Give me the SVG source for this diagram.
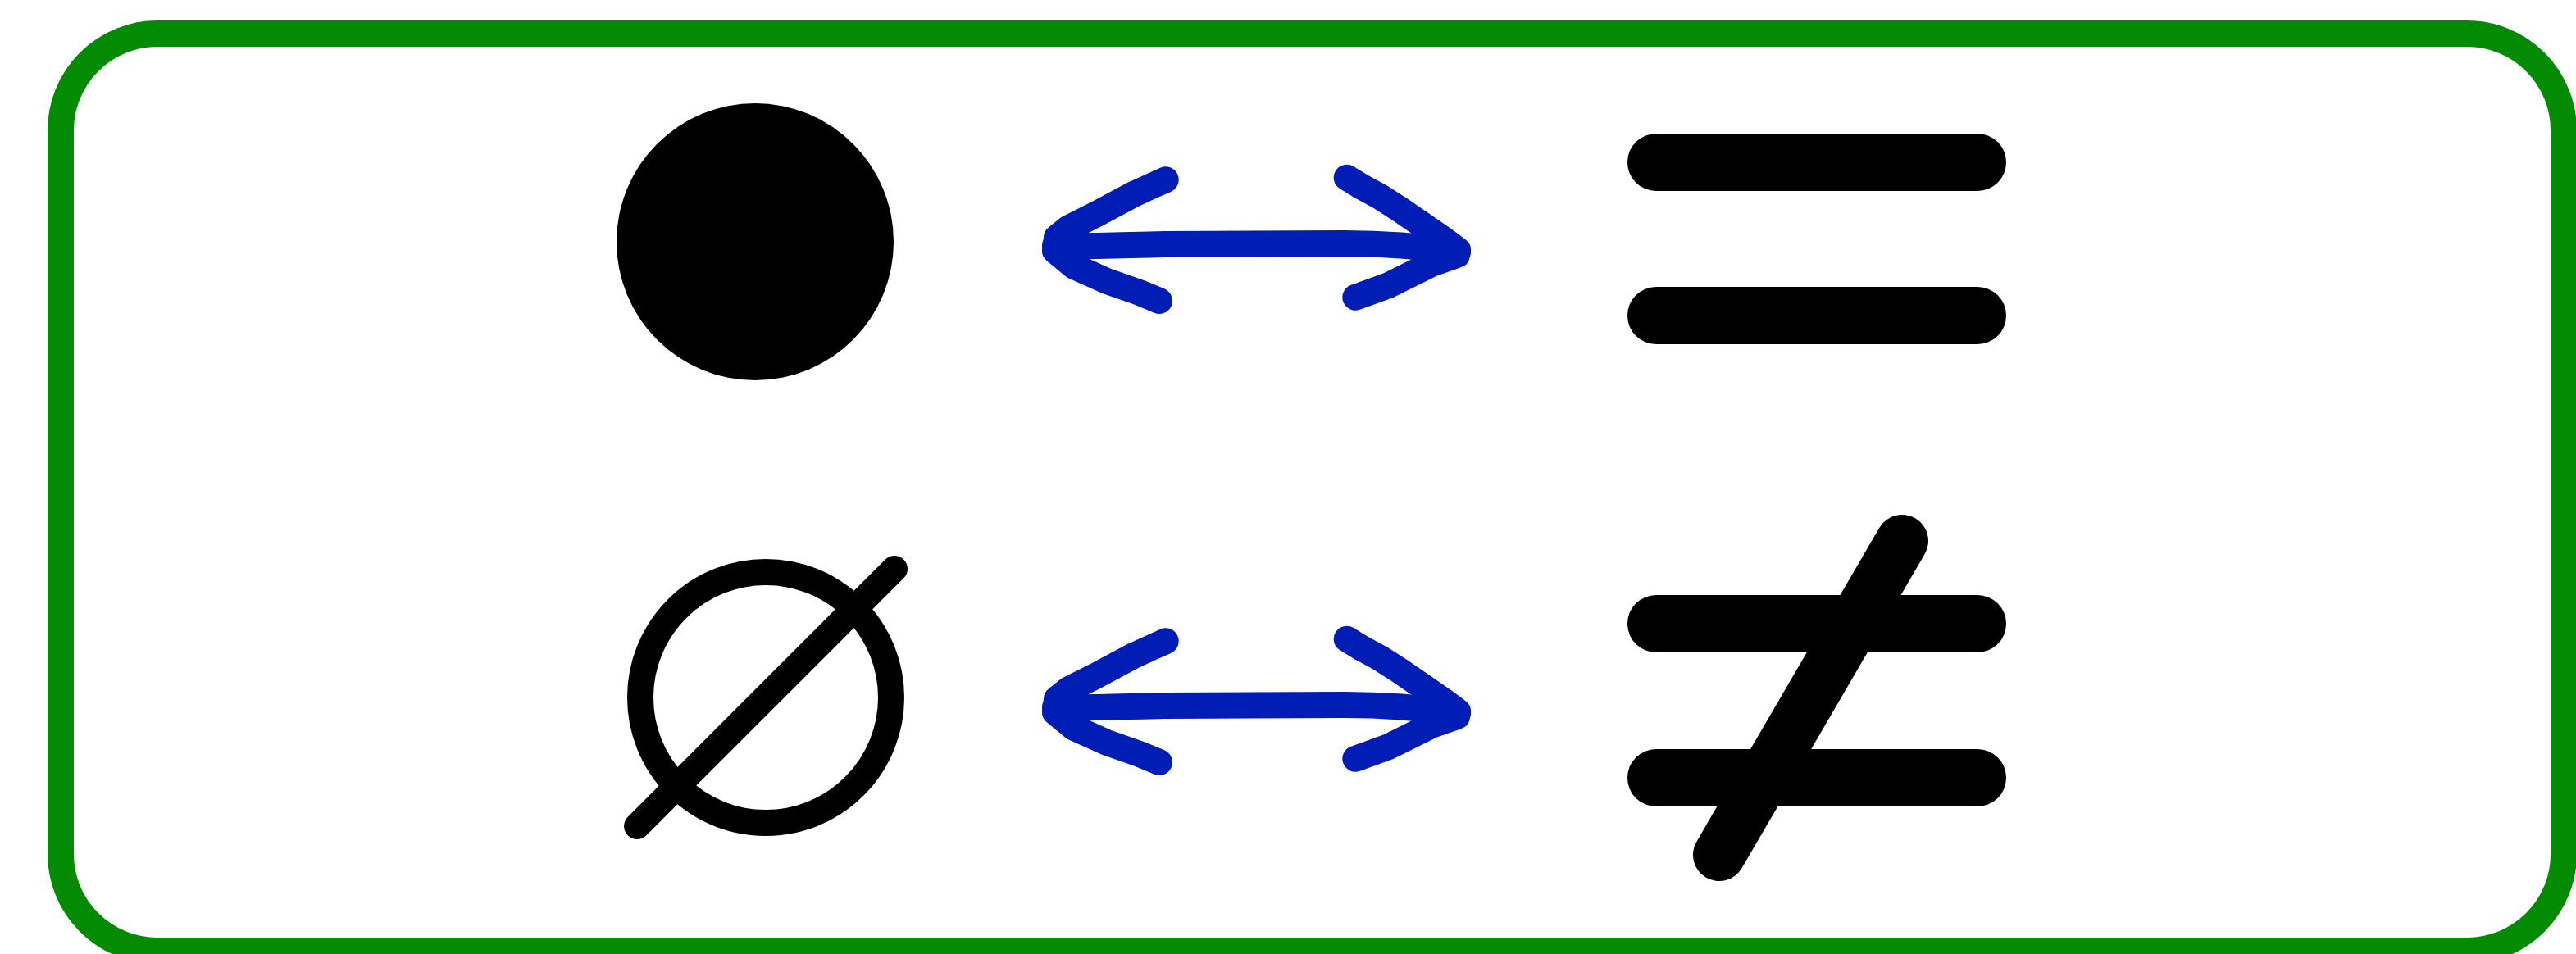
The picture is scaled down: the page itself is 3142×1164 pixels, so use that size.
<svg xmlns="http://www.w3.org/2000/svg" width="3142" height="1164" viewBox="0 0 3142 1164">
<style>
.frame{fill:none;stroke:#038c03;stroke-width:32}
.ink{fill:none;stroke:#000;stroke-linecap:round;stroke-linejoin:round}
.bar{stroke-width:70}
.thin{stroke-width:32}
.arrow{fill:none;stroke:#001db5;stroke-width:32;stroke-linecap:round;stroke-linejoin:round}
</style>
<rect width="3142" height="1164" fill="#fff"/>
<g id="frame">
<rect class="frame" x="74" y="41" width="3053" height="1119" rx="118" ry="118"/>
</g>
<g id="filled-circle">
<circle cx="921" cy="295" r="169" fill="#000"/>
</g>
<g id="equals">
<line class="ink bar" x1="2020" y1="198" x2="2412" y2="198"/>
<line class="ink bar" x1="2020" y1="385" x2="2412" y2="385"/>
</g>
<g id="empty-set">
<circle class="ink thin" cx="934" cy="851" r="153"/>
<line class="ink thin" x1="777" y1="1008" x2="1091" y2="694"/>
</g>
<g id="not-equal">
<line class="ink bar" x1="2020" y1="761" x2="2412" y2="761"/>
<line class="ink bar" x1="2020" y1="949" x2="2412" y2="949"/>
<line class="ink" stroke-width="64" x1="2320" y1="660" x2="2097" y2="1043"/>
</g>
<g id="connectors">
<g id="arrow-top">
<path class="arrow" d="M1287,300 C1330,301 1370,299 1420,298 L1640,297 C1690,297 1730,300 1778,307"/>
<path class="arrow" d="M1421.7,219.3 L1406.7,226 L1383.3,236.7 L1336.7,261.7 L1303.3,278.3 L1289,290 L1287,306 L1310,325 L1350,343 L1390,357 L1414,367"/>
<path class="arrow" d="M1642.7,216.7 L1661.7,228.3 L1683.3,240 L1706.7,255 L1733.3,273.3 L1760,291.7 L1778,305 L1777,311 L1746.7,321.7 L1720,335 L1693.3,348.3 L1670,356.7 L1653.3,362.7"/>
</g>
<g id="arrow-bottom" transform="translate(0,563)">
<path class="arrow" d="M1287,300 C1330,301 1370,299 1420,298 L1640,297 C1690,297 1730,300 1778,307"/>
<path class="arrow" d="M1421.7,219.3 L1406.7,226 L1383.3,236.7 L1336.7,261.7 L1303.3,278.3 L1289,290 L1287,306 L1310,325 L1350,343 L1390,357 L1414,367"/>
<path class="arrow" d="M1642.7,216.7 L1661.7,228.3 L1683.3,240 L1706.7,255 L1733.3,273.3 L1760,291.7 L1778,305 L1777,311 L1746.7,321.7 L1720,335 L1693.3,348.3 L1670,356.7 L1653.3,362.7"/>
</g>
</g>
</svg>
